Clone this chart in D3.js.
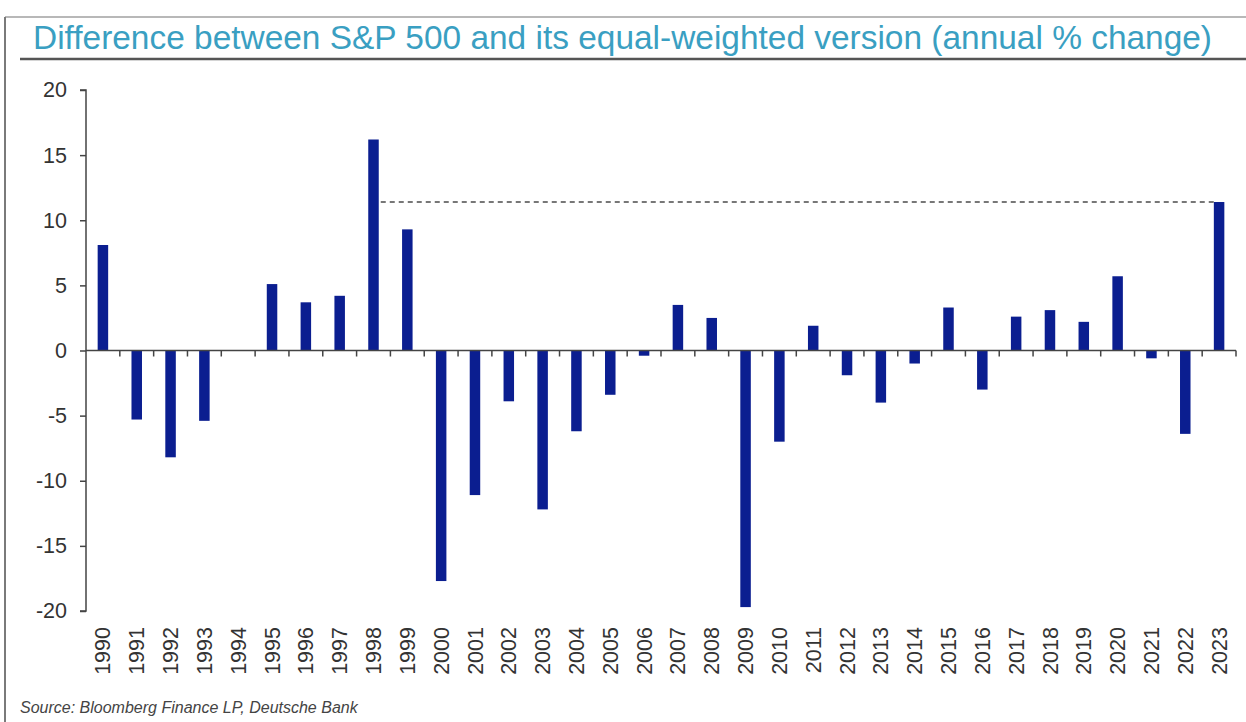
<!DOCTYPE html>
<html>
<head>
<meta charset="utf-8">
<script src="https://cdn.jsdelivr.net/npm/d3@7"></script>
<style>
  html, body { margin: 0; padding: 0; background: #fff; }
  svg { display: block; }
</style>
</head>
<body>
<svg id="chart" width="1246" height="722"></svg>
<script>
// Annual difference in % between the S&P 500 and its equal-weighted version
const years = [
  "1990","1991","1992","1993","1994","1995","1996","1997","1998","1999",
  "2000","2001","2002","2003","2004","2005","2006","2007","2008","2009",
  "2010","2011","2012","2013","2014","2015","2016","2017","2018","2019",
  "2020","2021","2022","2023"
];
const diff = [
  8.1, -5.3, -8.2, -5.4, 0, 5.1, 3.7, 4.2, 16.2, 9.3,
  -17.7, -11.1, -3.9, -12.2, -6.2, -3.4, -0.4, 3.5, 2.5, -19.7,
  -7.0, 1.9, -1.9, -4.0, -1.0, 3.3, -3.0, 2.6, 3.1, 2.2,
  5.7, -0.6, -6.4, 11.4
];
const yTicks = [20, 15, 10, 5, 0, -5, -10, -15, -20];
// Reference line drawn at the latest year's level, starting from 1998
const refFrom = "1998";
const refTo = "2023";

const titleText = "Difference between S&P 500 and its equal-weighted version (annual % change)";
const sourceText = "Source: Bloomberg Finance LP, Deutsche Bank";

const svg = d3.select("#chart");

// Panel frame
svg.append("line").attr("x1", 5).attr("x2", 1246).attr("y1", 17).attr("y2", 17)
  .attr("stroke", "#a0a0a0").attr("stroke-width", 1.5);
svg.append("line").attr("x1", 5).attr("x2", 5).attr("y1", 17).attr("y2", 722)
  .attr("stroke", "#7a7a7a").attr("stroke-width", 2);

// Title (condensed) and rule below it
svg.append("text")
  .attr("x", 33).attr("y", 49)
  .attr("font-family", "'Liberation Sans', Arial, sans-serif")
  .attr("font-size", 34)
  .attr("fill", "#3a9fc2")
  .attr("textLength", 1179)
  .attr("lengthAdjust", "spacingAndGlyphs")
  .text(titleText);
svg.append("line").attr("x1", 20).attr("x2", 1246).attr("y1", 59).attr("y2", 59)
  .attr("stroke", "#555").attr("stroke-width", 2.5);

// Scales
const x = d3.scaleBand().domain(years).range([86, 1236]).paddingInner(0).paddingOuter(0);
const y = d3.scaleLinear().domain([-20, 20]).range([611, 90]);
const barW = 10.5;

// Y axis
const yAxis = d3.axisLeft(y).tickValues(yTicks).tickSize(6).tickPadding(13)
  .tickFormat(d => String(d));
const gy = svg.append("g").attr("transform", "translate(86,0)").call(yAxis);
gy.select(".domain").attr("stroke", "#444").attr("stroke-width", 1.5)
  .attr("d", `M-6,${y(20)}H0V${y(-20)}H-6`);
gy.selectAll(".tick line").attr("stroke", "#444").attr("stroke-width", 1.5);
gy.selectAll(".tick text")
  .attr("font-family", "'Liberation Sans', Arial, sans-serif")
  .attr("font-size", 21.5).attr("fill", "#333");

// Bars
svg.append("g").selectAll("rect")
  .data(years.map((yr, i) => ({ yr, v: diff[i] })).filter(d => d.v !== 0))
  .join("rect")
  .attr("x", d => x(d.yr) + x.bandwidth() / 2 - barW / 2)
  .attr("width", barW)
  .attr("y", d => y(Math.max(0, d.v)))
  .attr("height", d => Math.abs(y(d.v) - y(0)))
  .attr("fill", "#0b1e90");

// X axis line at zero with ticks on category boundaries
const gx = svg.append("g");
gx.append("line").attr("x1", 86).attr("x2", 1236).attr("y1", y(0)).attr("y2", y(0))
  .attr("stroke", "#444").attr("stroke-width", 1.5);
gx.selectAll("line.tk")
  .data(years.map(yr => x(yr) + x.bandwidth()))
  .join("line").attr("class", "tk")
  .attr("x1", d => d).attr("x2", d => d)
  .attr("y1", y(0)).attr("y2", y(0) + 6)
  .attr("stroke", "#444").attr("stroke-width", 1.5);

// Year labels, rotated
svg.append("g").selectAll("text")
  .data(years)
  .join("text")
  .attr("transform", d => `translate(${x(d) + x.bandwidth() / 2},627) rotate(-90)`)
  .attr("text-anchor", "end")
  .attr("dy", "0.35em")
  .attr("font-family", "'Liberation Sans', Arial, sans-serif")
  .attr("font-size", 21.5)
  .attr("fill", "#333")
  .text(d => d);

// Dashed reference line at the latest value
const refVal = diff[years.indexOf(refTo)];
svg.append("line")
  .attr("x1", x(refFrom) + x.bandwidth() / 2 + barW / 2 + 2)
  .attr("x2", x(refTo) + x.bandwidth() / 2 - barW / 2)
  .attr("y1", y(refVal)).attr("y2", y(refVal))
  .attr("stroke", "#777").attr("stroke-width", 2)
  .attr("stroke-dasharray", "5,4");

// Source note
svg.append("text")
  .attr("x", 20).attr("y", 713)
  .attr("font-family", "'Liberation Sans', Arial, sans-serif")
  .attr("font-style", "italic")
  .attr("font-size", 16)
  .attr("fill", "#444")
  .text(sourceText);
</script>
</body>
</html>
